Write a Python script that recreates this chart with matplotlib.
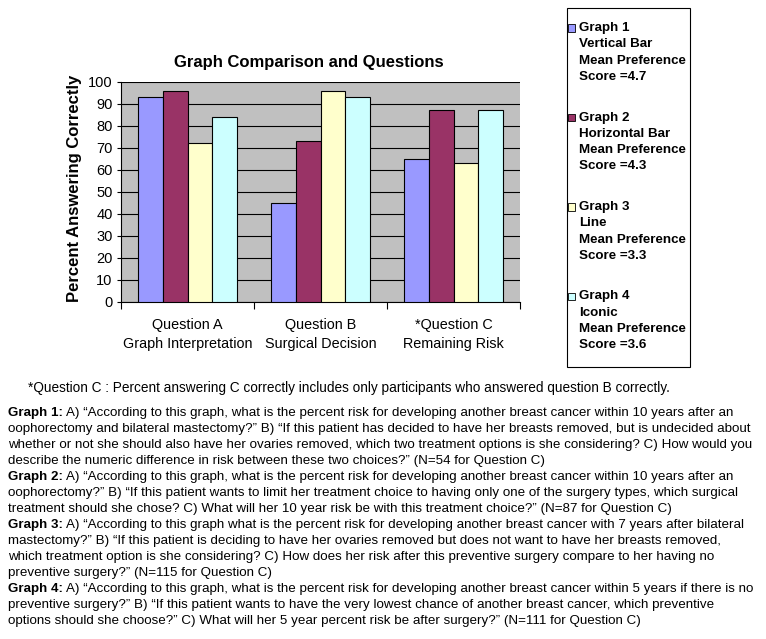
import matplotlib
matplotlib.use("Agg")
import matplotlib.pyplot as plt
from matplotlib.patches import Rectangle
import numpy as np

W, H = 766, 639

CATEGORIES = ["Question A\nGraph Interpretation", "Question B\nSurgical Decision", "*Question C\nRemaining Risk"]
GRAPHS = ["Graph 1", "Graph 2", "Graph 3", "Graph 4"]
GRAPH_TYPES = ["Vertical Bar", "Horizontal Bar", "Line", "Iconic"]
PREF_SCORES = [4.7, 4.3, 3.3, 3.6]
graph1 = [93, 45, 65]
graph2 = [96, 73, 87]
graph3 = [72, 96, 63]
graph4 = [84, 93, 87]
YTICKS = list(range(0, 101, 10))

FOOTNOTE = "*Question C : Percent answering C correctly includes only participants who answered question B correctly."
BODY = [
    ("Graph 1:", " A) \u201cAccording to this graph, what is the percent risk for developing another breast cancer within 10 years after an"),
    ("", "oophorectomy and bilateral mastectomy?\u201d B) \u201cIf this patient has decided to have her breasts removed, but is undecided about"),
    ("", "whether or not she should also have her ovaries removed, which two treatment options is she considering? C) How would you"),
    ("", "describe the numeric difference in risk between these two choices?\u201d (N=54 for Question C)"),
    ("Graph 2:", " A) \u201cAccording to this graph, what is the percent risk for developing another breast cancer within 10 years after an"),
    ("", "oophorectomy?\u201d B) \u201cIf this patient wants to limit her treatment choice to having only one of the surgery types, which surgical"),
    ("", "treatment should she chose? C) What will her 10 year risk be with this treatment choice?\u201d (N=87 for Question C)"),
    ("Graph 3:", " A) \u201cAccording to this graph what is the percent risk for developing another breast cancer with 7 years after bilateral"),
    ("", "mastectomy?\u201d B) \u201cIf this patient is deciding to have her ovaries removed but does not want to have her breasts removed,"),
    ("", "which treatment option is she considering? C) How does her risk after this preventive surgery compare to her having no"),
    ("", "preventive surgery?\u201d (N=115 for Question C)"),
    ("Graph 4:", " A) \u201cAccording to this graph, what is the percent risk for developing another breast cancer within 5 years if there is no"),
    ("", "preventive surgery?\u201d B) \u201cIf this patient wants to have the very lowest chance of another breast cancer, which preventive"),
    ("", "options should she choose?\u201d C) What will her 5 year percent risk be after surgery?\u201d (N=111 for Question C)"),
]

COLORS = ["#9999FF", "#993366", "#FFFFCC", "#CCFFFF"]
plt.rcParams["font.family"] = ["Liberation Sans", "DejaVu Sans"]


def fx(x):
    return x / W


def fy(y):
    return 1 - y / H


fig = plt.figure(figsize=(W / 100, H / 100), dpi=100)
fig.patch.set_facecolor("white")

# chart area
ax = fig.add_axes([fx(121), fy(301.7), (520 - 121) / W, 220 / H])
ax.set_facecolor("#C0C0C0")
series = [graph1, graph2, graph3, graph4]
x = np.arange(len(CATEGORIES))
bw = 0.186
for i, vals in enumerate(series):
    ax.bar(x + (i - 1.5) * bw, vals, width=bw, color=COLORS[i],
           edgecolor="black", linewidth=0.8, zorder=3)

ax.set_xlim(-0.5, 2.5)
ax.set_ylim(0, 100)
ax.set_yticks(YTICKS)
ax.tick_params(axis="y", labelsize=10.5, length=3, width=0.8, pad=3)
ax.yaxis.grid(True, color="black", linewidth=0.8, zorder=1)
ax.set_axisbelow(True)
ax.set_xticks([-0.5, 0.5, 1.5, 2.5])
ax.set_xticklabels([])
ax.tick_params(axis="x", which="major", length=5, width=0.8, direction="out")
ax.set_xticks(x, minor=True)
ax.set_xticklabels(CATEGORIES, minor=True, fontsize=10.4, linespacing=1.4)
ax.tick_params(axis="x", which="minor", length=0, pad=12)
for s in ["top", "right"]:
    ax.spines[s].set_visible(False)
for s in ["left", "bottom"]:
    ax.spines[s].set_linewidth(0.8)

fig.text(fx(309), fy(63), "Graph Comparison and Questions", ha="center", va="center",
         fontsize=12, fontweight="bold")
fig.text(fx(75), fy(188), "Percent Answering Correctly", ha="center", va="center",
         rotation=90, fontsize=12, fontweight="bold")

# legend box
fig.patches.append(Rectangle((fx(567), fy(367)), (690 - 567) / W, (367 - 8) / H,
                             transform=fig.transFigure, facecolor="white",
                             edgecolor="black", linewidth=0.8))
for i, g in enumerate(GRAPHS):
    y0 = 28 + i * 89.5
    fig.patches.append(Rectangle((fx(568), fy(y0 + 3.5)), 7 / W, 7 / H,
                                 transform=fig.transFigure, facecolor=COLORS[i],
                                 edgecolor="black", linewidth=0.6))
    lines = [g, GRAPH_TYPES[i], "Mean Preference", f"Score ={PREF_SCORES[i]}"]
    for j, t in enumerate(lines):
        fig.text(fx(579), fy(y0 + j * 16.3), t, ha="left", va="center",
                 fontsize=9.6, fontweight="bold")

# notes below chart
fig.text(fx(28), fy(388), FOOTNOTE, ha="left", va="center", fontsize=9.8)
for k, (bold, rest) in enumerate(BODY):
    y = 413 + k * 16
    if bold:
        t = fig.text(fx(8), fy(y), bold, ha="left", va="center", fontsize=9.6,
                     fontweight="bold")
        ax.annotate(rest, xy=(1, 0.5), xycoords=t, ha="left", va="center",
                    fontsize=9.65, annotation_clip=False)
    else:
        fig.text(fx(8), fy(y), rest, ha="left", va="center", fontsize=9.65)

fig.savefig("out.png", dpi=100)
